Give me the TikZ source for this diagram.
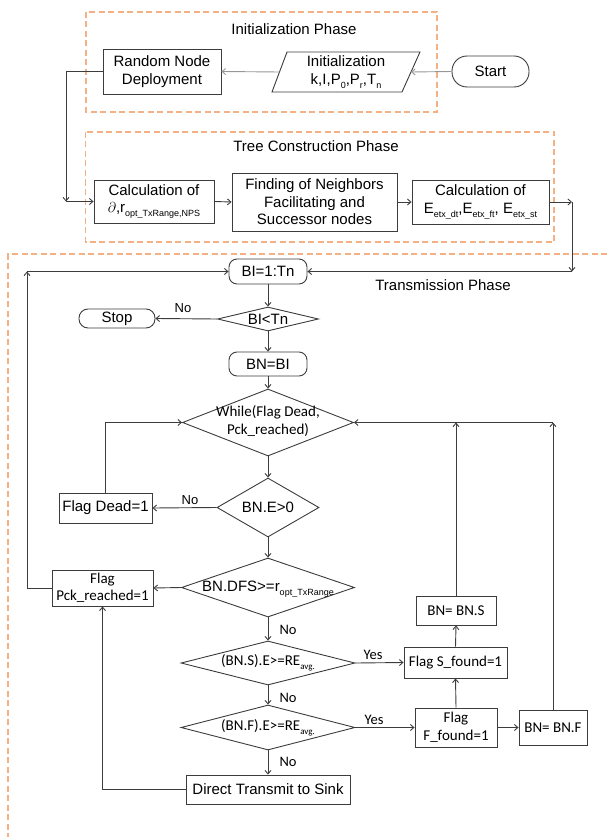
\documentclass[tikz,border=0pt]{standalone}
\usepackage{fontspec}
\setmainfont{Liberation Sans}
\newfontfamily\calib{Carlito}
\usetikzlibrary{arrows.meta,shapes.geometric}
\newcommand\lsub[1]{\raisebox{-0.25em}{\fontsize{9}{9}\selectfont #1}}
\definecolor{phaseorange}{RGB}{244,177,131}
\definecolor{linegray}{RGB}{60,60,60}
\definecolor{softgray}{RGB}{150,150,150}
\begin{document}
\begin{tikzpicture}[x=1pt,y=-1pt,
  font=\fontsize{15}{17.5}\selectfont,
  proc/.style={draw=linegray,line width=0.9pt,inner sep=0pt,align=center},
  dia/.style={draw=linegray,line width=0.9pt,diamond,inner sep=0pt},
  conn/.style={draw=linegray,line width=0.9pt,-{Straight Barb[length=3.5pt,width=6pt]}},
  plain/.style={draw=linegray,line width=0.9pt},
  grayconn/.style={conn,draw=softgray},
  phase/.style={draw=phaseorange,line width=1.5pt,dash pattern=on 6pt off 3.5pt},
  lbl/.style={inner sep=0pt},
  clbl/.style={inner sep=0pt,font=\calib\fontsize{14.5}{16}\selectfont},
  cal/.style={font=\calib\fontsize{15}{17.5}\selectfont}
]
\useasboundingbox (0,0) rectangle (607,837);

% phase frames
\draw[phase] (86,12) rectangle (437,112);
\draw[phase] (85.5,132) rectangle (554,242);
\draw[phase] (607,254) -- (8,254) -- (8,837);
\node[lbl] (tInit) at (294,29) {Initialization Phase};
\node[lbl] (tTree) at (316,146) {Tree Construction Phase};
\node[lbl] (tTrans) at (443,285) {Transmission Phase};

% initialization phase
\node[proc,minimum width=118pt,minimum height=45pt] (random) at (162,71.5) {Random Node\\Deployment};
\node[inner sep=0pt,align=center] (init) at (346,72) {Initialization\\k,I,P\lsub{0},P\lsub{r},T\lsub{n}};
\draw[draw=linegray,line width=0.9pt] ([shift={(-59,-20)}]init.center) -- ([shift={(74,-20)}]init.center)
  -- ([shift={(56,20)}]init.center) -- ([shift={(-74,20)}]init.center) -- cycle;
\coordinate (initR) at ([shift={(65,0)}]init.center);
\coordinate (initL) at ([shift={(-66.5,0)}]init.center);
\node[proc,minimum width=77pt,minimum height=31pt,rounded corners=15pt] (start) at (490.5,71.5) {Start};
\draw[grayconn] (start.west) -- (initR);
\draw[grayconn] (initL) -- (random.east);

% tree construction phase
\node[proc,minimum width=120pt,minimum height=43pt] (calc1) at (154,201.5) {Calculation of\\$\partial$,r\lsub{opt\_TxRange,NPS}};
\node[proc,minimum width=165pt,minimum height=58pt] (find) at (314.5,202) {Finding of Neighbors\\Facilitating and\\Successor nodes};
\node[proc,minimum width=137pt,minimum height=44pt] (calc2) at (480.5,202) {Calculation of\\E\lsub{etx\_dt},E\lsub{etx\_ft}, E\lsub{etx\_st}};
\coordinate (c1) at (66,201.5);
\draw[conn] (random.west) -- (c1 |- random.west) -- (c1);
\draw[conn] (c1) -- (calc1.west);
\draw[conn] (calc1.east) -- (find.west);
\draw[conn] (find.east) -- (calc2.west);
\coordinate (c2) at (572,202);
\coordinate (c3) at (572,271.5);
\draw[conn] (calc2.east) -- (c2);
\draw[conn] (c2) -- (c3);

% transmission phase
\node[proc,minimum width=78pt,minimum height=25pt,rounded corners=8pt] (bi) at (268,271.5) {BI=1:Tn};
\draw[conn] (c3) -- (bi.east);
\node[dia,minimum width=101pt,minimum height=24pt] (blt) at (268,319) {};
\node[lbl] at (blt) {BI<Tn};
\node[proc,minimum width=76pt,minimum height=19pt,rounded corners=9pt] (stop) at (117,318.5) {Stop};
\node[proc,minimum width=78pt,minimum height=24pt,rounded corners=8pt] (bnbi) at (268,364) {BN=BI};
\node[dia,minimum width=171pt,minimum height=67pt] (while) at (268,422.5) {};
\node[lbl,cal,align=center] at (268,421) {While(Flag Dead,\\Pck\_reached)};
\node[dia,minimum width=102pt,minimum height=59pt] (bne) at (268,507.5) {};
\node[lbl] at (bne) {BN.E>0};
\node[dia,minimum width=173pt,minimum height=59pt] (dfs) at (268,587.5) {};
\node[lbl] at (268,589) {BN.DFS>=r\lsub{opt\_TxRange}};
\node[dia,minimum width=174pt,minimum height=44pt] (bns) at (268,663) {};
\node[lbl,cal] at (268,663) {(BN.S).E>=RE\lsub{avg.}};
\node[dia,minimum width=174pt,minimum height=45pt] (bnf) at (268,727.5) {};
\node[lbl,cal] at (268,727.5) {(BN.F).E>=RE\lsub{avg.}};
\node[proc,minimum width=164pt,minimum height=29pt] (direct) at (268,789.5) {Direct Transmit to Sink};

\node[proc,minimum width=93pt,minimum height=30pt] (dead) at (105.5,508) {Flag Dead=1};
\node[proc,cal,minimum width=101pt,minimum height=36pt] (pck) at (102.5,588) {Flag\\Pck\_reached=1};
\node[proc,cal,minimum width=80pt,minimum height=29pt] (bnS) at (456,610.5) {BN= BN.S};
\node[proc,cal,minimum width=103pt,minimum height=31pt] (flagS) at (455.5,662.5) {Flag S\_found=1};
\node[proc,cal,minimum width=82pt,minimum height=39pt] (flagF) at (456,727.5) {Flag\\F\_found=1};
\node[proc,cal,minimum width=68pt,minimum height=35pt] (bnF) at (553,727.5) {BN= BN.F};

% main column
\draw[conn] (bi.south) -- (blt.north);
\draw[conn] (blt.west) -- (stop.east);
\node[lbl,font=\fontsize{13}{15}\selectfont] at (183,308) {No};
\draw[conn] (blt.south) -- (bnbi.north);
\draw[conn] (bnbi.south) -- (while.north);
\draw[conn] (while.south) -- (bne.north);
\draw[conn] (bne.west) -- (dead.east);
\node[lbl,font=\fontsize{13}{15}\selectfont] at (190,500) {No};
\draw[conn] (dead.north) -- (dead.north |- while.west) -- (while.west);
\draw[conn] (bne.south) -- (dfs.north);
\draw[conn] (dfs.west) -- (pck.east);
\coordinate (c4) at (27,271.5);
\draw[conn] (pck.west) -- (c4 |- pck.west) -- (c4);
\draw[conn] (c4) -- (bi.west);
\draw[conn] (dfs.south) -- (bns.north);
\node[clbl] at (288,630) {No};
\draw[conn] (bns.east) -- (flagS.west);
\node[clbl] at (373,655) {Yes};
\draw[conn] (bns.south) -- (bnf.north);
\node[clbl] at (288,698) {No};
\draw[conn] (bnf.east) -- (flagF.west);
\node[clbl] at (374,720) {Yes};
\draw[conn] (bnf.south) -- (direct.north);
\node[clbl] at (288,762) {No};
\draw[conn] (direct.west) -- (pck.south |- direct.west) -- (pck.south);

% right column
\draw[conn] (flagF.north) -- (flagS.south);
\draw[conn] (flagS.north) -- (bnS.south);
\draw[conn] (flagF.east) -- (bnF.west);
\coordinate (c5) at (456,422.5);
\coordinate (c6) at (553,422.5);
\draw[conn] (bnS.north) -- (c5);
\draw[conn] (bnF.north) -- (c6);
\draw[conn] (c6) -- (while.east);
\end{tikzpicture}
\end{document}
